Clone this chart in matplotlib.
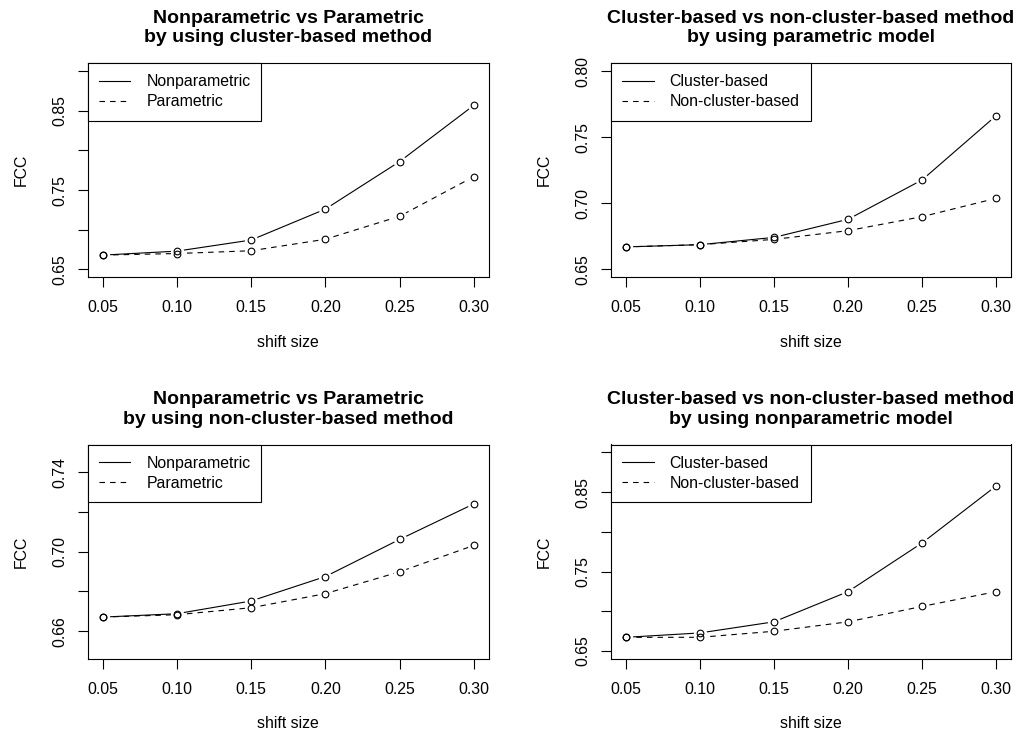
import matplotlib
matplotlib.use("Agg")
import matplotlib.pyplot as plt
import numpy as np

plt.rcParams['font.family'] = ['Liberation Sans', 'DejaVu Sans']

shift = [0.05, 0.10, 0.15, 0.20, 0.25, 0.30]
xticklabels = ["0.05", "0.10", "0.15", "0.20", "0.25", "0.30"]

# Panel 1: cluster-based method
p1_nonpar = [0.668, 0.673, 0.687, 0.726, 0.786, 0.857]
p1_par = [0.668, 0.670, 0.6735, 0.688, 0.717, 0.767]
# Panel 2: parametric model
p2_cluster = [0.667, 0.6687, 0.6742, 0.6879, 0.7177, 0.7664]
p2_noncluster = [0.667, 0.6687, 0.6727, 0.6793, 0.6899, 0.7038]
# Panel 3: non-cluster-based method
p3_nonpar = [0.6671, 0.6688, 0.6752, 0.6875, 0.7062, 0.7241]
p3_par = [0.6671, 0.6683, 0.6718, 0.6789, 0.6899, 0.7032]
# Panel 4: nonparametric model
p4_cluster = [0.6673, 0.6728, 0.6868, 0.7248, 0.7861, 0.8579]
p4_noncluster = [0.6673, 0.6673, 0.6749, 0.6868, 0.7062, 0.7248]

titles = [
    "Nonparametric vs Parametric\nby using cluster-based method",
    "Cluster-based vs non-cluster-based method\nby using parametric model",
    "Nonparametric vs Parametric\nby using non-cluster-based method",
    "Cluster-based vs non-cluster-based method\nby using nonparametric model",
]
legend_labels = [
    ["Nonparametric", "Parametric"],
    ["Cluster-based", "Non-cluster-based"],
    ["Nonparametric", "Parametric"],
    ["Cluster-based", "Non-cluster-based"],
]
series = [
    (p1_nonpar, p1_par),
    (p2_cluster, p2_noncluster),
    (p3_nonpar, p3_par),
    (p4_cluster, p4_noncluster),
]
yticks = [
    [0.65, 0.70, 0.75, 0.80, 0.85, 0.90],
    [0.65, 0.70, 0.75, 0.80],
    [0.66, 0.68, 0.70, 0.72, 0.74],
    [0.65, 0.70, 0.75, 0.80, 0.85, 0.90],
]
yticklabels = [
    ["0.65", "", "0.75", "", "0.85", ""],
    ["0.65", "0.70", "0.75", "0.80"],
    ["0.66", "", "0.70", "", "0.74"],
    ["0.65", "", "0.75", "", "0.85", ""],
]
ylims = [(0.64, 0.91), (0.644, 0.806), (0.646, 0.754), (0.64, 0.91)]

W, H = 1024, 737
fig = plt.figure(figsize=(W / 100, H / 100), dpi=100)

rects = [
    (87.7, 63.3, 488.7, 277.3),
    (611, 63.3, 1011, 277.3),
    (87.7, 444.5, 488.7, 659),
    (611, 444.5, 1011, 659),
]

fs = 11.4
for i in range(4):
    l, t, r, b = rects[i]
    ax = fig.add_axes([l / W, 1 - b / H, (r - l) / W, (b - t) / H])
    s1, s2 = series[i]
    for ys, ls, lab in ((s1, '-', legend_labels[i][0]), (s2, (0, (5, 4.5)), legend_labels[i][1])):
        ax.plot(shift, ys, color='black', lw=0.8, linestyle=ls, label=lab, zorder=2)
        ax.plot(shift, ys, linestyle='none', marker='o', markersize=8.5, markerfacecolor='white',
                markeredgecolor='white', zorder=3)
        ax.plot(shift, ys, linestyle='none', marker='o', markersize=4.8, markerfacecolor='none',
                markeredgecolor='black', markeredgewidth=0.8, zorder=4)
    ax.set_xlim(0.04, 0.31)
    ax.set_ylim(*ylims[i])
    ax.set_xticks(shift)
    ax.set_xticklabels(xticklabels)
    ax.set_yticks(yticks[i])
    ax.set_yticklabels(yticklabels[i], rotation=90, va='center')
    ax.tick_params(direction='out', length=7, width=0.8, labelsize=fs, pad=9.5)
    ax.tick_params(axis='y', pad=7.5)
    for sp in ax.spines.values():
        sp.set_linewidth(0.8)
    ax.set_xlabel("shift size", fontsize=fs, labelpad=14)
    ax.set_ylabel("FCC", fontsize=fs, labelpad=17)
    ax.set_title(titles[i], fontsize=14, fontweight='bold', pad=15, linespacing=1.2)
    h = [ax.lines[0], ax.lines[3]]
    leg = ax.legend(h, legend_labels[i], loc='upper left', borderaxespad=0, fancybox=False,
                    edgecolor='black', framealpha=1, fontsize=fs, handlelength=2.0,
                    handletextpad=1.0, borderpad=0.7, labelspacing=0.32)
    leg.get_frame().set_linewidth(0.8)

fig.savefig("out.png", dpi=100)
